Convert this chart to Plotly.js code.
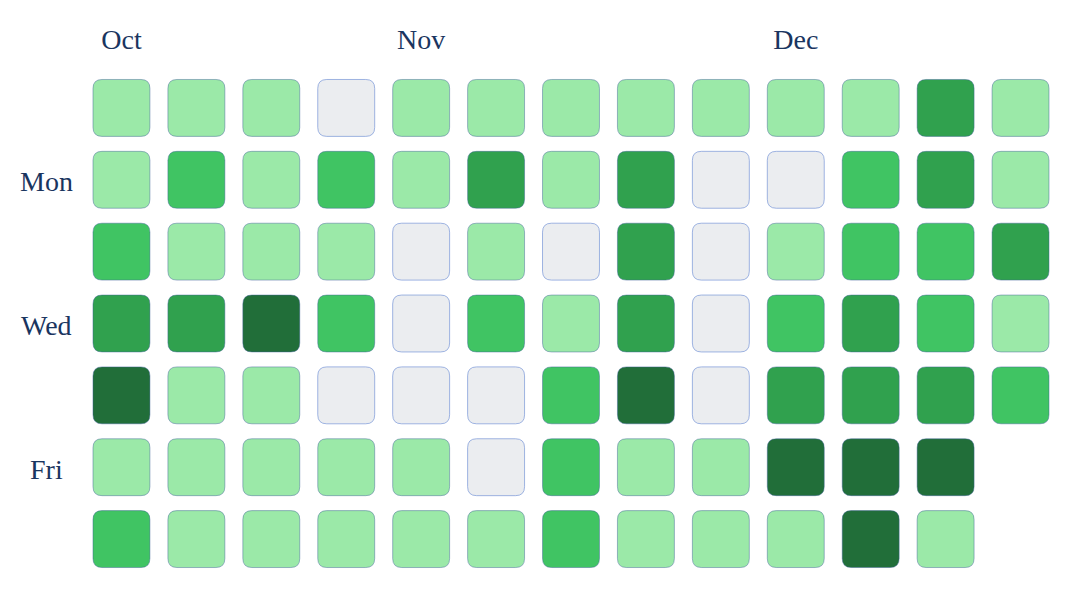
<!DOCTYPE html>
<html>
<head>
<meta charset="utf-8">
<script src="https://cdn.plot.ly/plotly-3.0.1.min.js"></script>
<style>html,body{margin:0;padding:0;background:#fff;}#chart{width:1079px;height:605px;}</style>
</head>
<body>
<div id="chart"></div>
<script>
// Weeks (columns) and weekdays (rows, Sun..Sat)
const weeks = [0,1,2,3,4,5,6,7,8,9,10,11,12];
const weekdays = ["Sun","Mon","Tue","Wed","Thu","Fri","Sat"];
// Contribution level per weekday row, per week column (null = no day)
const sunLevels = [1,1,1,0,1,1,1,1,1,1,1,3,1];
const monLevels = [1,2,1,2,1,3,1,3,0,0,2,3,1];
const tueLevels = [2,1,1,1,0,1,0,3,0,1,2,2,3];
const wedLevels = [3,3,4,2,0,2,1,3,0,2,3,2,1];
const thuLevels = [4,1,1,0,0,0,2,4,0,3,3,3,2];
const friLevels = [1,1,1,1,1,0,2,1,1,4,4,4,null];
const satLevels = [2,1,1,1,1,1,2,1,1,1,4,1,null];
const levels = [sunLevels,monLevels,tueLevels,wedLevels,thuLevels,friLevels,satLevels];
const palette = ["#ebedf0","#9be9a8","#40c463","#30a14e","#216e39"];
const monthLabels = ["Oct","Nov","Dec"];
const monthWeeks = [0,4,9];
const dayLabels = ["Mon","Wed","Fri"];
const dayRows = [1,3,5];

const hw = 0.38, hh = 0.396, rx = 0.12, ry = 0.125;
const shapes = [];
const xs = [], ys = [], txt = [];
levels.forEach((row, r) => {
  row.forEach((lv, c) => {
    if (lv === null) return;
    const x = weeks[c];
    const x0 = x - hw, x1 = x + hw, y0 = r - hh, y1 = r + hh;
    const p = `M ${x0+rx},${y0} L ${x1-rx},${y0} Q ${x1},${y0} ${x1},${y0+ry} L ${x1},${y1-ry} Q ${x1},${y1} ${x1-rx},${y1} L ${x0+rx},${y1} Q ${x0},${y1} ${x0},${y1-ry} L ${x0},${y0+ry} Q ${x0},${y0} ${x0+rx},${y0} Z`;
    shapes.push({type:"path", xref:"x", yref:"y", path:p, fillcolor:palette[lv],
      line:{color: lv===0 ? "rgba(120,150,215,0.7)" : "rgba(60,95,150,0.45)", width:1}, layer:"above"});
    xs.push(x); ys.push(r); txt.push(weekdays[r] + ", week " + (c+1) + ": level " + lv);
  });
});

const trace = {type:"scatter", mode:"markers", x:xs, y:ys, text:txt, hoverinfo:"text",
  marker:{size:40, opacity:0}, showlegend:false};

const font = {family:"Liberation Serif, DejaVu Serif, serif", size:28, color:"#1a3560"};
const annotations = dayLabels.map((d, i) => ({
  text:d, xref:"paper", yref:"y", x:-0.038, y:dayRows[i], xanchor:"center", yanchor:"middle",
  yshift:-2, showarrow:false, font:font
}));
const layout = {
  width:1079, height:605,
  margin:{l:84, r:21.2, t:71.5, b:29.5},
  paper_bgcolor:"#ffffff", plot_bgcolor:"#ffffff",
  xaxis:{range:[-0.5,12.5], side:"top", tickvals:monthWeeks, ticktext:monthLabels,
    showgrid:false, zeroline:false, showline:false, ticks:"", tickfont:font, ticklabelstandoff:16, fixedrange:true},
  yaxis:{range:[6.5,-0.5], showticklabels:false,
    showgrid:false, zeroline:false, showline:false, ticks:"", fixedrange:true},
  shapes:shapes,
  annotations:annotations,
  showlegend:false
};
Plotly.newPlot("chart",[trace],layout,{displayModeBar:false});
</script>
</body>
</html>
